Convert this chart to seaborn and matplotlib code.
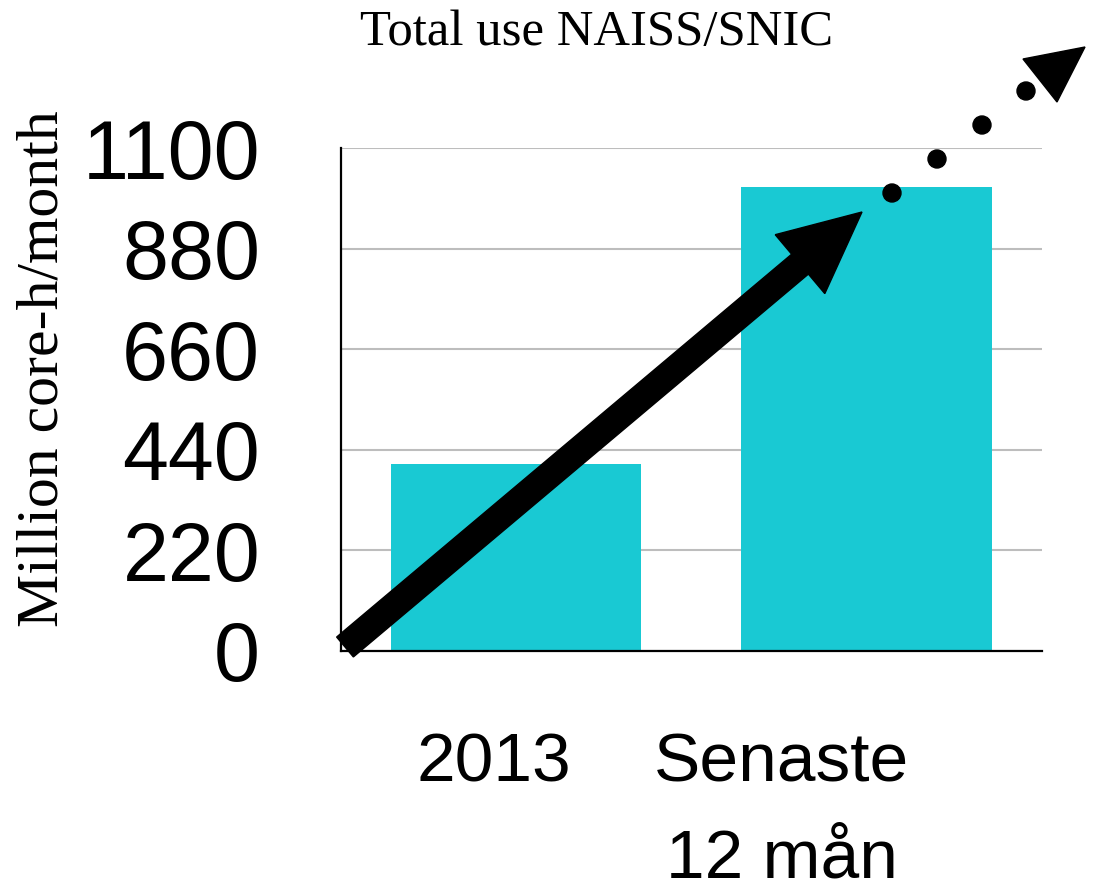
import matplotlib
matplotlib.use("Agg")
import matplotlib.pyplot as plt
from matplotlib import font_manager
from matplotlib.patches import FancyArrow, Circle, Polygon
from matplotlib.transforms import ScaledTranslation, Affine2D
import seaborn as sns
import pandas as pd

# ---- data ----
categories = ["2013", "Senaste\n12 mån"]
values = [409, 1016]
yticks = [0, 220, 440, 660, 880, 1100]
title = "Total use NAISS/SNIC"
ylabel = "Million core-h/month"

bar_color = "#19C9D3"

names = {f.name for f in font_manager.fontManager.ttflist}
narrow = "Liberation Sans Narrow" if "Liberation Sans Narrow" in names else "Liberation Sans"
narrow_size = 58 if narrow == "Liberation Sans Narrow" else 50

sns.set_theme(style="white")
plt.rcParams["font.family"] = ["Liberation Sans", "DejaVu Sans"]
plt.rcParams["text.color"] = "black"
plt.rcParams["xtick.color"] = "black"
plt.rcParams["ytick.color"] = "black"
plt.rcParams["axes.labelcolor"] = "black"

W, H, DPI = 11.02, 8.93, 100
fig = plt.figure(figsize=(W, H), dpi=DPI)
ax = fig.add_axes([340.7 / 1102, 1 - 650.7 / 893, (1042 - 340.7) / 1102, (650.7 - 148.3) / 893])

df = pd.DataFrame({"cat": categories, "val": values})
sns.barplot(data=df, x="cat", y="val", color=bar_color, saturation=1, width=0.715,
            linewidth=0, ax=ax)

ax.set_xlim(-0.5, 1.5)
ax.set_ylim(0, 1100)
ax.set_yticks(yticks)
ax.set_yticklabels([str(t) for t in yticks], fontsize=59.5, color="black",
                   family=["Liberation Sans", "DejaVu Sans"])
ax.tick_params(axis="y", length=0, pad=58)
ax.tick_params(axis="x", length=0, pad=58)
ax.set_xticks(range(len(categories)))
ax.set_xticklabels(categories, fontsize=narrow_size, family=[narrow, "DejaVu Sans"], color="black",
                   linespacing=1.65, multialignment="center")

ax.grid(axis="y", color="#BDBDBD", linewidth=1.5)
ax.set_axisbelow(True)
for s in ["top", "right"]:
    ax.spines[s].set_visible(False)
for s in ["left", "bottom"]:
    ax.spines[s].set_color("black")
    ax.spines[s].set_linewidth(1.6)
ax.set_xlabel("")

# shift x tick labels left as in the reference
shifts_px = [22, 85]
for lab, sh in zip(ax.get_xticklabels(), shifts_px):
    lab.set_transform(lab.get_transform() + ScaledTranslation(-sh / DPI, 0, fig.dpi_scale_trans))

ax.set_ylabel(ylabel, fontsize=43, color="black", family=["Liberation Serif", "DejaVu Serif"])
ax.yaxis.label.set_va("center")
ax.yaxis.set_label_coords(44 / 1102, 1 - 368.5 / 893, transform=fig.transFigure)

fig.text(597 / 1102, 1 - 45 / 893, title, ha="center", va="baseline", fontsize=36.5,
         color="black", family=["Liberation Serif", "DejaVu Serif"])

# decorative growth arrow in pixel space (origin top-left)
px = Affine2D().scale(1 / DPI, -1 / DPI).translate(0, H) + fig.dpi_scale_trans
x0, y0, x1, y1 = 345, 647, 862, 212
arr = FancyArrow(x0, y0, x1 - x0, y1 - y0, width=26, head_width=77, head_length=81,
                 length_includes_head=True, color="black", transform=px, clip_on=False)
fig.add_artist(arr)
for cx, cy in [(892, 193), (937, 159), (982, 125), (1026, 91)]:
    fig.add_artist(Circle((cx, cy), 9, color="black", transform=px, clip_on=False))
fig.add_artist(Polygon([(1023, 59), (1085, 47), (1057, 102)], closed=True, color="black",
                       transform=px, clip_on=False))

fig.savefig("out.png", dpi=DPI)
